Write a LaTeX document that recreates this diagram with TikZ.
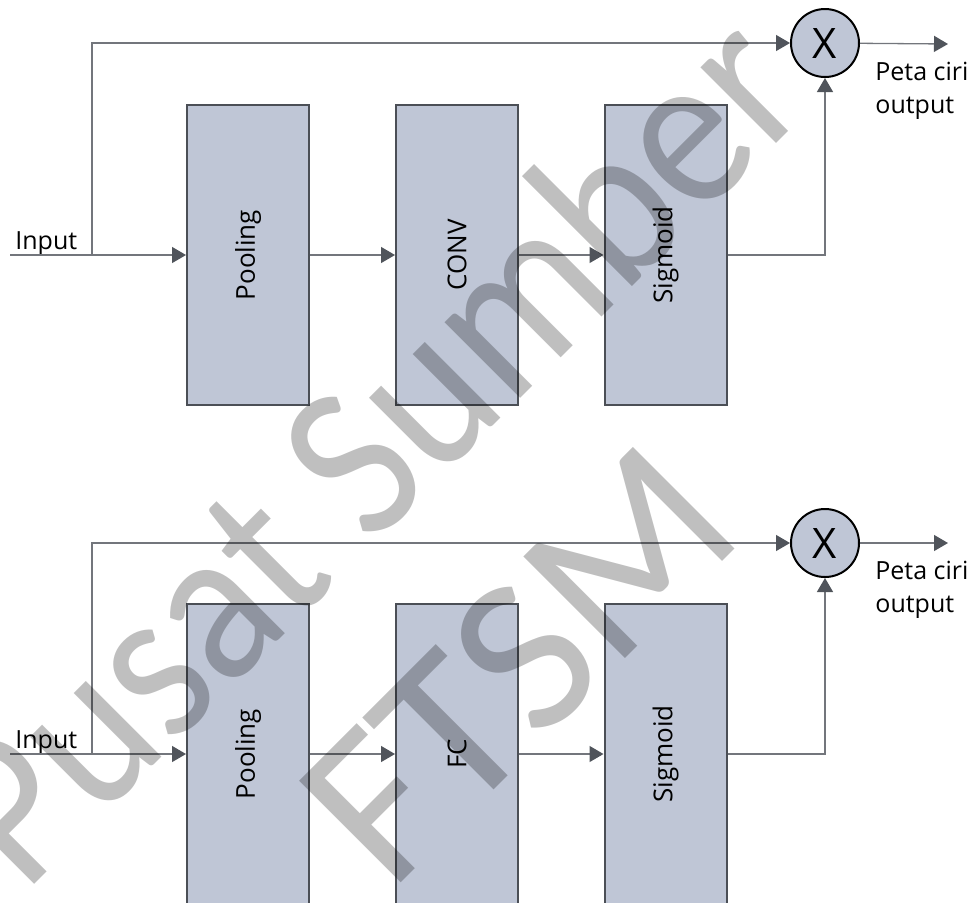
\documentclass[tikz,border=0pt]{standalone}
\usepackage{fontspec}
\setmainfont{Open Sans}
\newfontfamily\markfont{Carlito}
\usepackage{xcolor}
\definecolor{BoxFill}{HTML}{BFC6D6}
\definecolor{BoxLine}{HTML}{4B4F56}
\definecolor{Wire}{HTML}{73767C}
\definecolor{TipGray}{HTML}{50545B}
\usetikzlibrary{arrows.meta}

\begin{document}
\begin{tikzpicture}[x=0.5pt, y=-0.5pt,
  blk/.style={rectangle, draw=BoxLine, line width=1pt, fill=BoxFill,
              minimum width=61pt, minimum height=150pt, inner sep=0pt},
  blab/.style={rotate=90, inner sep=0pt, font=\fontsize{13}{15}\selectfont},
  mul/.style={circle, draw=black, line width=1pt, fill=BoxFill, minimum size=34pt,
              inner sep=0pt, font=\fontsize{21}{21}\selectfont},
  wire/.style={draw=Wire, line width=0.65pt, -{Triangle[length=7pt, width=8pt, color=TipGray]}},
  bare/.style={draw=Wire, line width=0.65pt},
  lbl/.style={inner sep=0pt, font=\fontsize{12.5}{16.5}\selectfont, align=left},
  wmark/.style={rotate=45, inner sep=0pt, text=black, text opacity=0.25,
                font=\markfont\fontsize{112}{112}\selectfont}
]
\useasboundingbox (0,0) rectangle (976,902);
\clip (0,0) rectangle (976,902);

%% ---- Upper block: Pooling -> CONV -> Sigmoid ----
\coordinate (in1)  at (10,255);
\coordinate (br1)  at (92,255);
\coordinate (out1) at (948,44);
\node[blk]  (pool1) at (248,255) {};
\node[blab] (pool1t) at (pool1) {Pooling};
\node[blk]  (conv)  at (457,255) {};
\node[blab] (convt) at (conv) {CONV};
\node[blk]  (sig1)  at (665.5,255) {};
\node[blab] (sig1t) at (sig1) {Sigmoid};
\node[mul]  (mul1)  at (825,43) {X};
\node[lbl, anchor=base west] (inp1) at (15,249) {Input};
\node[lbl, anchor=north west] (res1) at (875,62) {Peta ciri\\output};

\draw[bare] (in1) -- (br1);
\draw[wire] (br1) -- (pool1);
\draw[wire] (pool1) -- (conv);
\draw[wire] (conv) -- (sig1);
\draw[wire] (sig1.east) -| (mul1.south);
\draw[wire] (br1) |- (mul1.west);
\draw[wire] (mul1) -- (out1);

%% ---- Lower block: Pooling -> FC -> Sigmoid ----
\coordinate (in2)  at (10,754);
\coordinate (br2)  at (92,754);
\coordinate (out2) at (948,543);
\node[blk]  (pool2) at (248,754) {};
\node[blab] (pool2t) at (pool2) {Pooling};
\node[blk]  (fc)    at (457,754) {};
\node[blab] (fct)   at (fc) {FC};
\node[blk]  (sig2)  at (665.5,754) {};
\node[blab] (sig2t) at (sig2) {Sigmoid};
\node[mul]  (mul2)  at (825,543) {X};
\node[lbl, anchor=base west] (inp2) at (15,748) {Input};
\node[lbl, anchor=north west] (res2) at (875,561) {Peta ciri\\output};

\draw[bare] (in2) -- (br2);
\draw[wire] (br2) -- (pool2);
\draw[wire] (pool2) -- (fc);
\draw[wire] (fc) -- (sig2);
\draw[wire] (sig2.east) -| (mul2.south);
\draw[wire] (br2) |- (mul2.west);
\draw[wire] (mul2) -- (out2);

%% ---- Watermark on top ----
\node[wmark, xscale=0.89, anchor=base west] (wm1) at (24,895) {Pusat Sumber};
\node[wmark, anchor=base west] (wm2) at (390,894) {FTSM};

\end{tikzpicture}
\end{document}
